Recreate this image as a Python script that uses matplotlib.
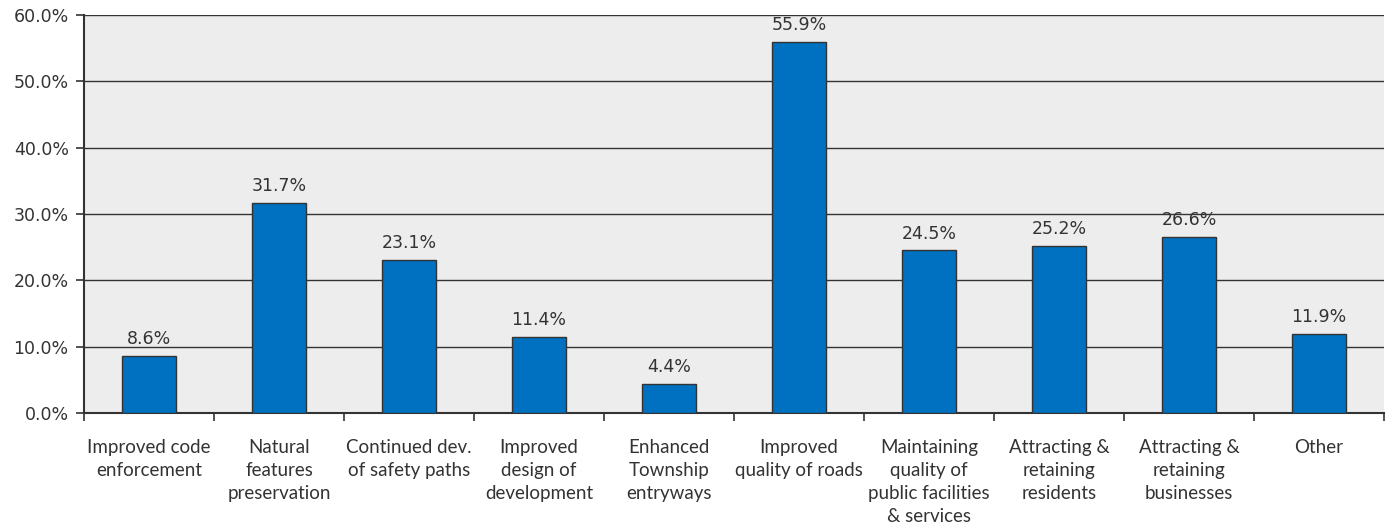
import matplotlib
matplotlib.use("Agg")
import matplotlib.pyplot as plt
import numpy as np
from matplotlib.ticker import FuncFormatter, FixedLocator, NullFormatter

categories = [
    "Improved code\nenforcement",
    "Natural\nfeatures\npreservation",
    "Continued dev.\nof safety paths",
    "Improved\ndesign of\ndevelopment",
    "Enhanced\nTownship\nentryways",
    "Improved\nquality of roads",
    "Maintaining\nquality of\npublic facilities\n& services",
    "Attracting &\nretaining\nresidents",
    "Attracting &\nretaining\nbusinesses",
    "Other",
]
values = [8.6, 31.7, 23.1, 11.4, 4.4, 55.9, 24.5, 25.2, 26.6, 11.9]
y_ticks = [0, 10, 20, 30, 40, 50, 60]

plt.rcParams['font.family'] = ['Lato', 'DejaVu Sans']
num_font = ['DejaVu Sans']
txt = '#333333'

fig = plt.figure(figsize=(13.86, 5.27), dpi=100)
ax = fig.add_axes([84/1386, 1 - 413/527, (1384-84)/1386, (413-15)/527])
ax.set_facecolor('#EDEDED')

x = np.arange(len(values))
ax.bar(x, values, width=0.41, color='#0070C0', edgecolor='#333333', linewidth=1.0, zorder=3)
for xi, v in zip(x, values):
    ax.text(xi, v + 1.2, f"{v:.1f}%", ha='center', va='bottom', fontsize=12.5,
            family=num_font, color=txt, zorder=4)

ax.set_xlim(-0.5, len(values) - 0.5)
ax.set_ylim(0, 60)
ax.set_yticks(y_ticks)
ax.yaxis.set_major_formatter(FuncFormatter(lambda v, p: f"{v:.1f}%"))
ax.grid(axis='y', color='#333333', linewidth=1.0, zorder=1)
ax.set_axisbelow(True)

ax.xaxis.set_major_locator(FixedLocator(np.arange(-0.5, len(values), 1.0)))
ax.xaxis.set_major_formatter(NullFormatter())
ax.xaxis.set_minor_locator(FixedLocator(x))
ax.set_xticklabels(categories, minor=True)
ax.tick_params(axis='x', which='major', length=6, width=1.2, color='#333333', direction='out')
ax.tick_params(axis='x', which='minor', length=0, pad=19, labelsize=13.5, labelcolor=txt)
ax.tick_params(axis='y', length=6, width=1.2, color='#333333', labelsize=12.5, labelcolor=txt, pad=5)

for lbl in ax.get_yticklabels():
    lbl.set_family(num_font)

for s in ['top', 'right']:
    ax.spines[s].set_visible(False)
for s in ['left', 'bottom']:
    ax.spines[s].set_color('#333333')
    ax.spines[s].set_linewidth(1.5)

for lbl in ax.get_xticklabels(minor=True):
    lbl.set_verticalalignment('top')
    lbl.set_linespacing(1.42)

fig.savefig("out.png", dpi=100)
